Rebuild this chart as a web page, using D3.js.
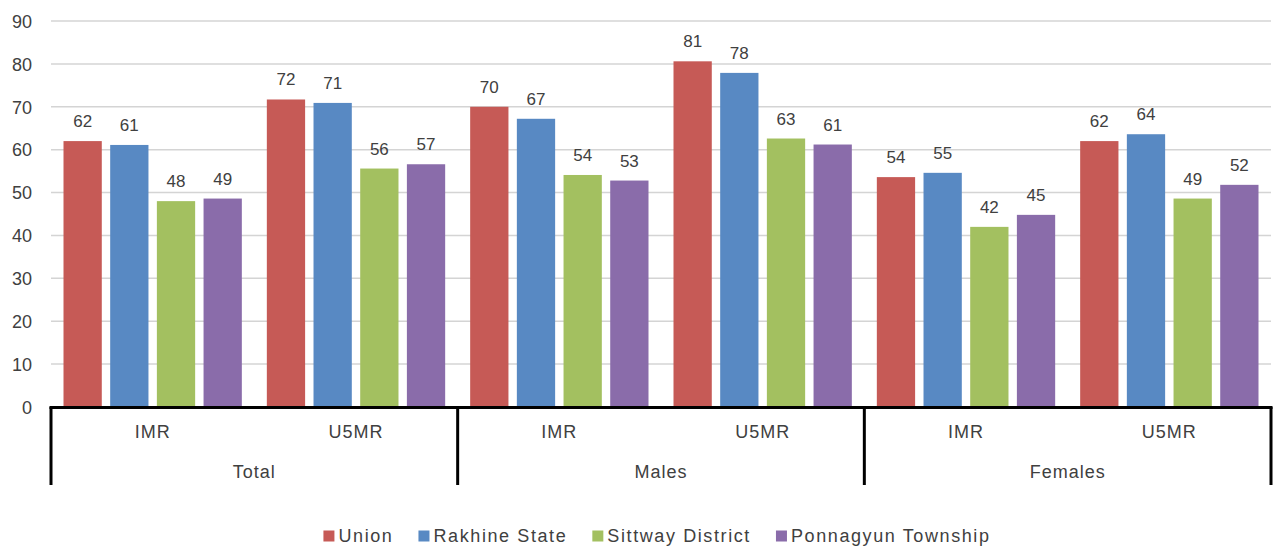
<!DOCTYPE html>
<html>
<head>
<meta charset="utf-8">
<script src="https://cdn.jsdelivr.net/npm/d3@7"></script>
<style>
  html, body { margin: 0; padding: 0; background: #fff; }
  svg { display: block; font-family: "Liberation Sans", Arial, sans-serif; }
</style>
</head>
<body>
<svg id="chart" width="1274" height="548"></svg>
<script>
const groups = ["Total", "Males", "Females"];
const subcats = ["IMR", "U5MR"];
const seriesNames = ["Union", "Rakhine State", "Sittway District", "Ponnagyun Township"];
const seriesColors = ["#C65A56", "#5889C3", "#A3C060", "#8A6CAA"];
// values in order: Total IMR, Total U5MR, Males IMR, Males U5MR, Females IMR, Females U5MR
const union      = [62.0, 71.7, 70.0, 80.6, 53.6, 62.0];
const rakhine    = [61.1, 70.9, 67.2, 77.9, 54.6, 63.6];
const sittway    = [48.0, 55.6, 54.1, 62.6, 42.0, 48.6];
const ponnagyun  = [48.6, 56.6, 52.8, 61.2, 44.8, 51.8];
const yTicks = [0, 10, 20, 30, 40, 50, 60, 70, 80, 90];

const seriesValues = [union, rakhine, sittway, ponnagyun];
(function () {
const svg = d3.select("#chart");
const mL = 51, mR = 1271, mT = 21, mB = 407;
const textColor = "#404040";

const y = d3.scaleLinear().domain([0, 90]).range([mB, mT]);

const keys = [];
groups.forEach(g => subcats.forEach(s => keys.push(g + "|" + s)));
const xSub = d3.scaleBand().domain(keys).range([mL, mR]);
const xGroup = d3.scaleBand().domain(groups).range([mL, mR]);
const sw = xSub.bandwidth();
const xSeries = d3.scaleBand().domain(seriesNames).range([12.5, sw - 12.5]).paddingInner(0.18);

// gridlines
svg.append("g").selectAll("line").data(yTicks.filter(t => t > 0)).join("line")
  .attr("x1", mL).attr("x2", mR)
  .attr("y1", d => y(d)).attr("y2", d => y(d))
  .attr("stroke", "#D4D4D4").attr("stroke-width", 1.5);

// y axis labels
const yAxis = svg.append("g").attr("transform", `translate(${mL - 19},0)`)
  .call(d3.axisLeft(y).tickValues(yTicks).tickSize(0).tickPadding(0));
yAxis.select(".domain").remove();
yAxis.selectAll("text").attr("font-size", 18).attr("fill", textColor)
  .attr("font-family", "Liberation Sans, Arial, sans-serif").attr("dy", "0.35em");

// bars
const data = [];
seriesNames.forEach((s, si) => {
  keys.forEach((k, ki) => data.push({ series: s, si, key: k, value: seriesValues[si][ki] }));
});
const barG = svg.append("g");
barG.selectAll("rect").data(data).join("rect")
  .attr("x", d => xSub(d.key) + xSeries(d.series))
  .attr("width", xSeries.bandwidth())
  .attr("y", d => y(d.value))
  .attr("height", d => y(0) - y(d.value))
  .attr("fill", d => seriesColors[d.si]);

barG.selectAll("text").data(data).join("text")
  .attr("x", d => xSub(d.key) + xSeries(d.series) + xSeries.bandwidth() / 2)
  .attr("y", d => y(d.value) - 14)
  .attr("text-anchor", "middle")
  .attr("font-size", 17)
  .attr("fill", textColor)
  .text(d => Math.round(d.value));

// category axis
const axG = svg.append("g");
axG.append("line").attr("x1", mL - 1.5).attr("x2", mR + 1.5)
  .attr("y1", mB + 0.5).attr("y2", mB + 0.5)
  .attr("stroke", "#000").attr("stroke-width", 3);
const dividers = groups.map(g => xGroup(g)).concat([mR]);
axG.selectAll("line.div").data(dividers).join("line").attr("class", "div")
  .attr("x1", d => d).attr("x2", d => d)
  .attr("y1", mB).attr("y2", 485)
  .attr("stroke", "#000").attr("stroke-width", 3);

axG.selectAll("text.sub").data(keys).join("text").attr("class", "sub")
  .attr("x", d => xSub(d) + sw / 2)
  .attr("y", 432).attr("dy", "0.35em")
  .attr("text-anchor", "middle").attr("font-size", 18).attr("letter-spacing", 1)
  .attr("fill", textColor)
  .text(d => d.split("|")[1]);

axG.selectAll("text.grp").data(groups).join("text").attr("class", "grp")
  .attr("x", d => xGroup(d) + xGroup.bandwidth() / 2)
  .attr("y", 472).attr("dy", "0.35em")
  .attr("text-anchor", "middle").attr("font-size", 18).attr("letter-spacing", 1)
  .attr("fill", textColor)
  .text(d => d);

// legend
const legG = svg.append("g");
const items = legG.selectAll("g").data(seriesNames).join("g");
items.append("rect").attr("width", 11).attr("height", 11).attr("y", -5.5)
  .attr("fill", (d, i) => seriesColors[i]);
items.append("text").attr("x", 15).attr("dy", "0.35em")
  .attr("font-size", 18).attr("letter-spacing", 1.6).attr("fill", textColor).text(d => d);
const widths = [];
items.each(function () { widths.push(this.getBBox().width); });
const gap = 25;
const total = d3.sum(widths) + gap * (widths.length - 1);
let cx = 657 - total / 2;
items.attr("transform", (d, i) => {
  const t = `translate(${cx},536)`;
  cx += widths[i] + gap;
  return t;
});
})();
</script>
</body>
</html>
